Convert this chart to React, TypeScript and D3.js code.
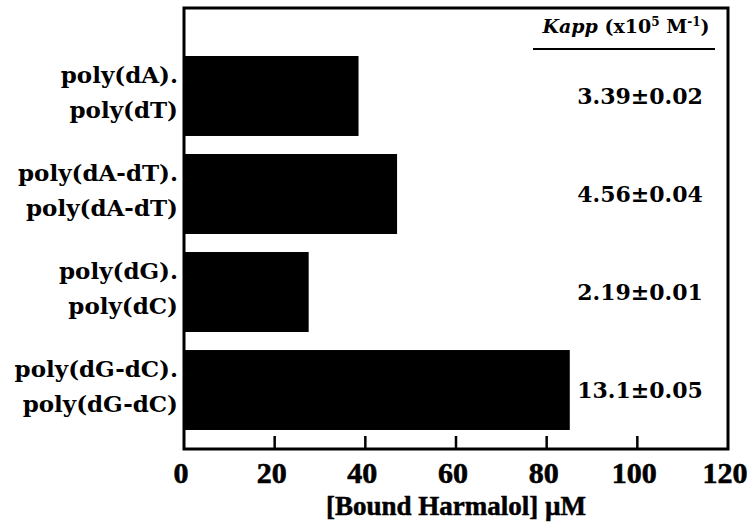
import React from "react";
import * as d3 from "d3";

const labelLine1 = ["poly(dA).", "poly(dA-dT).", "poly(dG).", "poly(dG-dC)."];
const labelLine2 = ["poly(dT)", "poly(dA-dT)", "poly(dC)", "poly(dG-dC)"];
const boundHarmalol = [38.5, 47.0, 27.5, 85.1];
const kappLabels = ["3.39\u00B10.02", "4.56\u00B10.04", "2.19\u00B10.01", "13.1\u00B10.05"];
const xTicks = [0, 20, 40, 60, 80, 100, 120];

const W = 752;
const H = 532;
const left = 184;
const right = 728;
const top = 8;
const bottom = 449;

const serifWide = "'DejaVu Serif', serif";
const serifTimes = "'Liberation Serif', 'Times New Roman', serif";

export default function App() {
  const x = d3.scaleLinear().domain([0, 120]).range([left, right]);
  const y = d3.scaleBand<string>().domain(labelLine1).range([56, 430]).paddingInner(0.184).paddingOuter(0);

  return (
    <svg width={W} height={H} style={{ position: "absolute", left: 0, top: 0, background: "#fff" }}>
      <rect x={0} y={0} width={W} height={H} fill="#fff" />
      {/* bars */}
      {labelLine1.map((c, i) => (
        <rect key={c} x={x(0)} y={y(c)!} width={x(boundHarmalol[i]) - x(0)} height={y.bandwidth()} fill="#000" />
      ))}
      {/* frame */}
      <rect x={left} y={top} width={right - left} height={bottom - top} fill="none" stroke="#000" strokeWidth={3} />
      {/* ticks */}
      {xTicks.slice(1, -1).map((t) => (
        <line key={t} x1={x(t)} x2={x(t)} y1={bottom} y2={bottom - 13} stroke="#000" strokeWidth={2.5} />
      ))}
      {xTicks.map((t) => (
        <text key={t} x={x(t) - 3} y={483} textAnchor="middle" fontFamily={serifTimes} fontWeight="bold" fontSize={30} stroke="#000" strokeWidth={0.6}>
          {t}
        </text>
      ))}
      <text x={(left + right) / 2} y={515} textAnchor="middle" fontFamily={serifTimes} fontWeight="bold" fontSize={27} stroke="#000" strokeWidth={0.5}>
        [Bound Harmalol] {"\u00B5"}M
      </text>
      {/* category labels */}
      {labelLine1.map((c, i) => {
        const cy = y(c)! + y.bandwidth() / 2;
        return (
          <g key={c} fontFamily={serifWide} fontWeight="bold" fontSize={23} textAnchor="end">
            <text x={178} y={cy - 13}>{c}</text>
            <text x={178} y={cy + 22}>{labelLine2[i]}</text>
          </g>
        );
      })}
      {/* kapp values */}
      {labelLine1.map((c, i) => {
        const cy = y(c)! + y.bandwidth() / 2;
        return (
          <text key={c} x={640} y={cy + 8} textAnchor="middle" fontFamily={serifWide} fontWeight="bold" fontSize={22}>
            {kappLabels[i]}
          </text>
        );
      })}
      {/* header */}
      <text x={626} y={33} textAnchor="middle" fontFamily={serifWide} fontWeight="bold" fontSize={19}>
        <tspan fontStyle="italic">Kapp</tspan>
        <tspan> (x10</tspan>
        <tspan fontSize={12} dy={-7}>5</tspan>
        <tspan dy={7}> M</tspan>
        <tspan fontSize={12} dy={-7}>-1</tspan>
        <tspan dy={7}>)</tspan>
      </text>
      <line x1={533} x2={715} y1={49} y2={49} stroke="#000" strokeWidth={2} />
    </svg>
  );
}
